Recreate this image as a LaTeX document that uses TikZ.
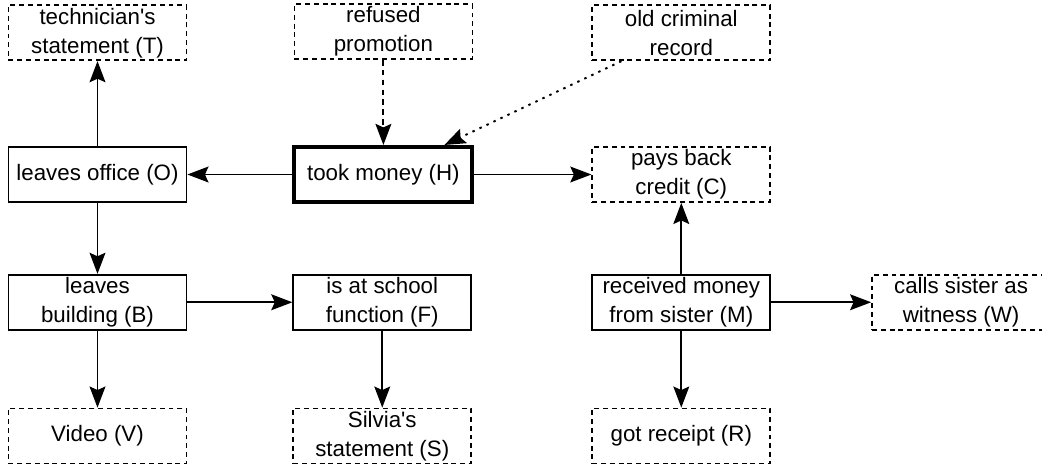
\documentclass[tikz,border=0pt]{standalone}
\usepackage{fontspec}
\setmainfont{Liberation Sans}
\usetikzlibrary{arrows.meta,positioning,calc}

\begin{document}
\begin{tikzpicture}[
    event/.style={draw, line width=1pt, minimum width=3.56cm, minimum height=1.1cm,
        align=center, inner sep=1pt, font=\fontsize{12.7}{16.5}\selectfont},
    evidence/.style={event, dash pattern=on 2.8pt off 2.2pt},
    main/.style={event, line width=2.3pt},
    arrow/.style={-{Stealth[length=12pt, width=9pt, inset=2pt]}, line width=1.1pt},
    weak/.style={arrow, dash pattern=on 3.2pt off 2.4pt},
    weaker/.style={arrow, dash pattern=on 1.4pt off 3pt}
]
    \useasboundingbox (0,0) rectangle (20.84,-9.32);

    % Core chain
    \node[event] (O) at (1.95,-3.49) {leaves office (O)};
    \node[main, right=2.1cm of O] (H) {took money (H)};
    \node[event, below=1.42cm of O] (B) {leaves\\building (B)};
    \node[event, right=2.1cm of B] (F) {is at school\\function (F)};

    % Money story
    \node[evidence, right=2.34cm of H] (C) {pays back\\credit (C)};
    \node[event, below=1.42cm of C] (M) {received money\\from sister (M)};

    % Evidence and motives
    \node[evidence, above=1.7cm of O] (T) {technician\textquotesingle s\\statement (T)};
    \node[evidence, above=1.7cm of H] (P) {refused\\promotion};
    \node[evidence, above=1.7cm of C] (K) {old criminal\\record};
    \node[evidence, below=1.54cm of B] (V) {Video (V)};
    \node[evidence, below=1.54cm of F] (S) {Silvia\textquotesingle s\\statement (S)};
    \node[evidence, below=1.54cm of M] (R) {got receipt (R)};
    \node[evidence, right=2.0cm of M] (W) {calls sister as\\witness (W)};

    \coordinate (Kfoot) at ($(K.south west)+(0.6,0)$);
    \coordinate (Htop) at ($(H.north east)+(-0.6,0)$);

    % Connections
    \draw[arrow] (O) -- (T);
    \draw[weak] (P) -- (H);
    \draw[weaker] (Kfoot) -- (Htop);
    \draw[arrow] (H) -- (O);
    \draw[arrow] (H) -- (C);
    \draw[arrow] (O) -- (B);
    \draw[arrow] (B) -- (F);
    \draw[arrow] (B) -- (V);
    \draw[arrow] (F) -- (S);
    \draw[arrow] (M) -- (C);
    \draw[arrow] (M) -- (W);
    \draw[arrow] (M) -- (R);
\end{tikzpicture}
\end{document}
